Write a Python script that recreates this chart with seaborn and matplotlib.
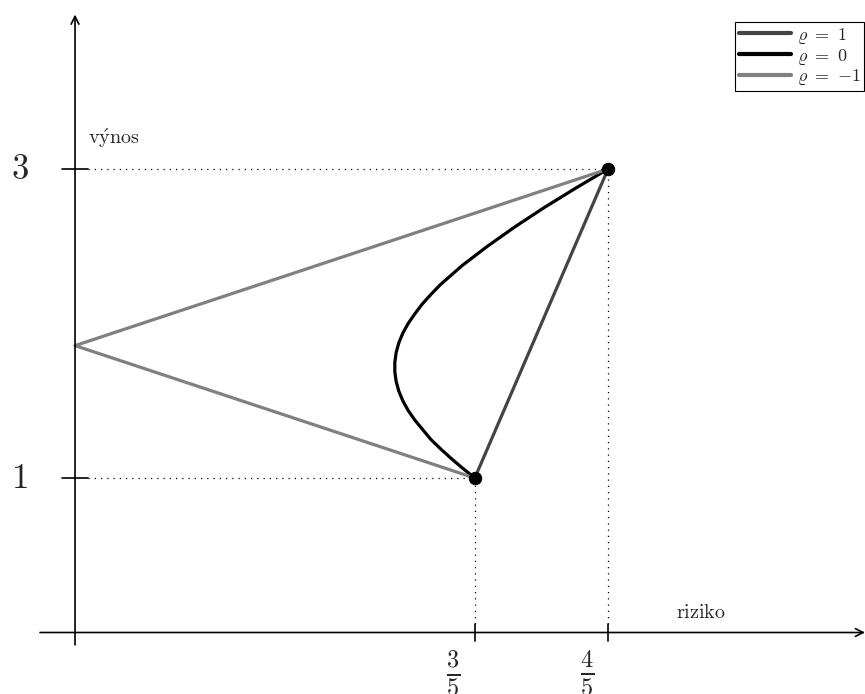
import numpy as np
import pandas as pd
import matplotlib
matplotlib.use("Agg")
import matplotlib.pyplot as plt
import seaborn as sns

# Assets (risk, return)
asset_risk = [0.6, 0.8]
asset_return = [1.0, 3.0]

# rho = 1 : straight line between the assets
rho1_risk = [0.6, 0.8]
rho1_return = [1.0, 3.0]

# rho = -1 : two segments touching zero risk
rhom1_risk = [0.6, 0.0, 0.8]
rhom1_return = [1.0, 1.857, 3.0]

# rho = 0 : curve
rho0_return = [1.0, 1.0625, 1.125, 1.1875, 1.25, 1.3125, 1.375, 1.4375, 1.5, 1.5625,
               1.625, 1.6875, 1.72, 1.75, 1.8125, 1.875, 1.9375, 2.0, 2.0625,
               2.125, 2.1875, 2.25, 2.375, 2.5, 2.625, 2.75, 2.875, 3.0]
rho0_risk = [0.600, 0.582, 0.565, 0.549, 0.534, 0.522, 0.510, 0.500, 0.492, 0.486,
             0.482, 0.480, 0.480, 0.480, 0.482, 0.486, 0.492, 0.500, 0.510,
             0.521, 0.534, 0.548, 0.581, 0.619, 0.660, 0.704, 0.751, 0.800]

x_ticks = [0.6, 0.8]
x_tick_labels = [r"$\frac{3}{5}$", r"$\frac{4}{5}$"]
y_ticks = [1, 3]
y_tick_labels = ["$1$", "$3$"]

labels = [r"$\varrho\ =\ 1$", r"$\varrho\ =\ 0$", r"$\varrho\ =\ {-1}$"]
colors = ["#444444", "#000000", "#808080"]

sns.set_theme(style="white")
plt.rcParams["mathtext.fontset"] = "cm"

fig = plt.figure(figsize=(8.65, 6.94), dpi=100)
ax = fig.add_axes([0, 0, 1, 1])
ax.set_xlim(-0.1126, 1.1857)
ax.set_ylim(-0.398, 4.094)
ax.axis("off")

df1 = pd.DataFrame({"riziko": rho1_risk, "vynos": rho1_return})
df0 = pd.DataFrame({"riziko": rho0_risk, "vynos": rho0_return})
dfm = pd.DataFrame({"riziko": rhom1_risk, "vynos": rhom1_return})

kw = dict(sort=False, estimator=None, lw=2.3, ax=ax)
sns.lineplot(data=df1, x="riziko", y="vynos", color=colors[0], label=labels[0], **kw)
sns.lineplot(data=df0, x="riziko", y="vynos", color=colors[1], label=labels[1], **kw)
sns.lineplot(data=dfm, x="riziko", y="vynos", color=colors[2], label=labels[2], **kw)

# axes with arrows
ax.annotate("", xy=(1.1857, 0), xytext=(-0.0525, 0),
            arrowprops=dict(arrowstyle="->", lw=1.2, color="black", shrinkA=0, shrinkB=0, mutation_scale=14))
ax.annotate("", xy=(0, 4.0), xytext=(0, -0.08),
            arrowprops=dict(arrowstyle="->", lw=1.2, color="black", shrinkA=0, shrinkB=0, mutation_scale=14))

# ticks
for yt, lab in zip(y_ticks, y_tick_labels):
    ax.plot([-0.019, 0.019], [yt, yt], color="black", lw=1.2)
    ax.text(-0.083, yt, lab, fontsize=25, ha="center", va="center")
for xt, lab in zip(x_ticks, x_tick_labels):
    ax.plot([xt, xt], [-0.055, 0.055], color="black", lw=1.2)
    ax.text(xt - 0.032, -0.1, lab, fontsize=25, ha="center", va="top")

# dotted guides
for xr, yr in zip(asset_risk, asset_return):
    ax.plot([0.019, xr], [yr, yr], color="black", lw=0.9, ls=(0, (1, 4)))
    ax.plot([xr, xr], [0.055, yr], color="black", lw=0.9, ls=(0, (1, 4)))

sns.scatterplot(x=asset_risk, y=asset_return, color="black", s=80, zorder=5, ax=ax, edgecolor="black")

ax.text(0.02, 3.2, r"$\mathrm{v\acute{y}nos}$", fontsize=14.5, ha="left", va="center")
ax.text(0.902, 0.13, r"$\mathrm{riziko}$", fontsize=14.5, ha="left", va="center")

leg = ax.legend(loc="upper right", bbox_to_anchor=(0.999, 1 - 22 / 694), bbox_transform=fig.transFigure,
                fontsize=13, frameon=True, fancybox=False, edgecolor="black", framealpha=1,
                handlelength=2.9, borderpad=0.2, labelspacing=0.05, handletextpad=0.3, borderaxespad=0)
leg.get_frame().set_linewidth(0.8)
for h in leg.get_lines():
    h.set_linewidth(3)

fig.savefig("out.png", dpi=100)
